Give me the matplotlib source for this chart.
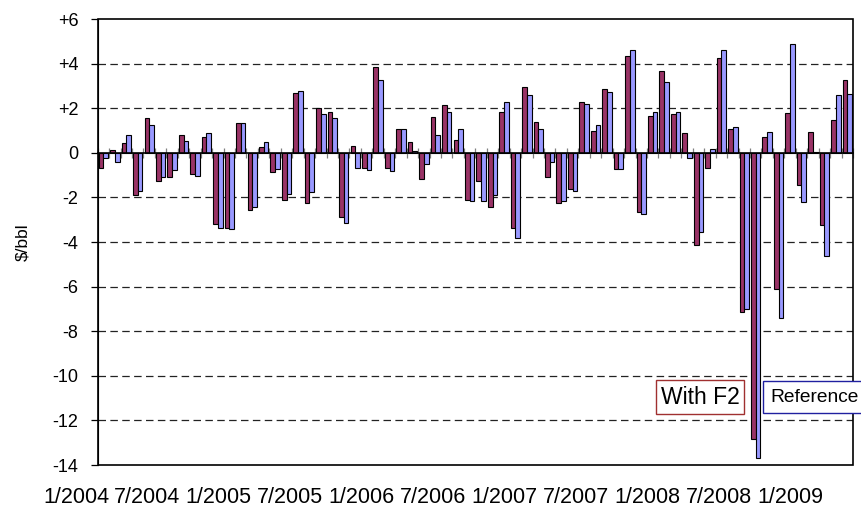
import numpy as np
import matplotlib.pyplot as plt
from matplotlib import font_manager
from matplotlib.transforms import blended_transform_factory
from matplotlib.patches import Rectangle

# monthly differences, 1/2004 .. 6/2009 ($/bbl)
with_f2 = [-0.67, 0.12, 0.45, -1.87, 1.54, -1.27, -1.08, 0.82, -0.93, 0.70,
           -3.17, -3.36, 1.32, -2.56, 0.24, -0.85, -2.11, 2.66, -2.24, 2.03,
           1.84, -2.90, 0.30, -0.67, 3.83, -0.67, 1.09, 0.49, -1.17, 1.61,
           2.15, 0.57, -2.11, -1.27, -2.44, 1.82, -3.39, 2.96, 1.38, -1.09,
           -2.24, -1.61, 2.29, 0.97, 2.88, -0.72, 4.35, -2.66, 1.64, 3.69,
           1.75, 0.90, -4.14, -0.67, 4.25, 1.09, -7.14, -12.83, 0.72, -6.10,
           1.79, -1.46, 0.94, -3.24, 1.46, 3.26]
reference = [-0.22, -0.40, 0.78, -1.72, 1.23, -1.08, -0.78, 0.52, -1.02, 0.90,
             -3.36, -3.41, 1.32, -2.44, 0.49, -0.72, -1.84, 2.75, -1.75, 1.75,
             1.57, -3.14, -0.66, -0.75, 3.26, -0.82, 1.05, 0.10, -0.48, 0.78,
             1.82, 1.09, -2.15, -2.15, -1.90, 2.29, -3.83, 2.60, 1.05, -0.40,
             -2.18, -1.72, 2.20, 1.26, 2.74, -0.72, 4.60, -2.75, 1.82, 3.17,
             1.82, -0.22, -3.54, 0.18, 4.63, 1.17, -7.00, -13.68, 0.94, -7.40,
             4.90, -2.20, 0.04, -4.63, 2.59, 2.62]

x_labels = ['1/2004', '7/2004', '1/2005', '7/2005', '1/2006', '7/2006',
            '1/2007', '7/2007', '1/2008', '7/2008', '1/2009']
y_ticks = [-14, -12, -10, -8, -6, -4, -2, 0, 2, 4, 6]
y_labels = ['-14', '-12', '-10', '-8', '-6', '-4', '-2', '0', '+2', '+4', '+6']

names = {f.name for f in font_manager.fontManager.ttflist}
has_narrow = 'Liberation Sans Narrow' in names
plt.rcParams['font.family'] = ['Liberation Sans', 'DejaVu Sans']

fig = plt.figure(figsize=(8.61, 5.11), dpi=100, facecolor='white')
ax = fig.add_axes([0.1135, 0.090, 0.8772, 0.8728])

n = len(with_f2)
x = np.arange(n)
w = 0.41
ax.bar(x - 0.205, with_f2, w, color='#993366', edgecolor='black', linewidth=0.8, zorder=3)
ax.bar(x + 0.205, reference, w, color='#9999FF', edgecolor='black', linewidth=0.8, zorder=3)

ax.set_xlim(-0.5, n - 0.5)
ax.set_ylim(-14, 6)

# horizontal dashed grid
for yv in y_ticks[1:-1]:
    if yv != 0:
        ax.axhline(yv, color='#222222', linewidth=0.9, dashes=(6, 3.5), zorder=1)

# category axis crossing at zero
ax.spines['bottom'].set_position(('data', 0))
ax.spines['bottom'].set_zorder(4)
ax.spines['bottom'].set_linewidth(1.2)
ax.spines['top'].set_visible(False)
ax.spines['right'].set_visible(False)
ax.set_xticks(np.arange(-0.5, n, 1.0))
ax.tick_params(axis='x', direction='inout', length=7, width=0.9, color='#808080',
               labelbottom=False)
ax.add_patch(Rectangle((0, 0), 1, 1, transform=ax.transAxes, fill=False,
                       edgecolor='black', linewidth=1.2, clip_on=False, zorder=5))

ax.set_yticks(y_ticks)
ax.set_yticklabels(y_labels, fontsize=13)
ax.tick_params(axis='y', direction='out', length=5, width=0.9, pad=9)

# date labels under the chart
trans = blended_transform_factory(ax.transData, ax.transAxes)
for pos, lab in zip(np.linspace(-2.4, 60.0, len(x_labels)), x_labels):
    ax.text(pos, -0.072, lab, transform=trans, ha='center', va='center',
            fontsize=15.5, clip_on=False)

fig.text(23 / 861, 1 - 242 / 511, r'\$/bbl', rotation=90, ha='center', va='center',
         fontsize=12.5)

# series labels
fig.text(700 / 861, 1 - 397 / 511, 'With F2', ha='center', va='center', fontsize=16.5,
         bbox=dict(boxstyle='square,pad=0.22', facecolor='white', edgecolor='#A03030',
                   linewidth=1.0))
if has_narrow:
    ref_font, ref_size, ref_pad = ['Liberation Sans Narrow', 'DejaVu Sans'], 16.5, 0.22
else:
    ref_font, ref_size, ref_pad = ['Liberation Sans', 'DejaVu Sans'], 13.8, 0.38
fig.text(770 / 861, 1 - 397 / 511, 'Reference', ha='left', va='center', fontsize=ref_size,
         family=ref_font,
         bbox=dict(boxstyle='square,pad=%.2f' % ref_pad, facecolor='white',
                   edgecolor='#2020A0', linewidth=1.0))

fig.savefig('out.png', dpi=100, facecolor='white')
